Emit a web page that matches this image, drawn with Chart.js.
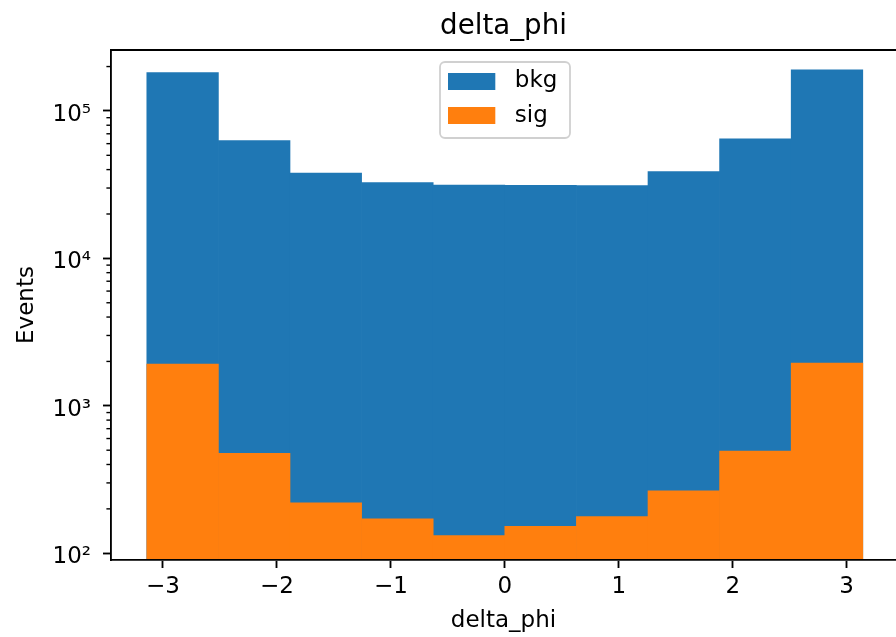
<!DOCTYPE html>
<html><head><meta charset="utf-8">
<script src="https://cdn.jsdelivr.net/npm/chart.js@4/dist/chart.umd.min.js"></script>
<style>html,body{margin:0;padding:0;background:#fff;overflow:hidden}canvas{display:block}</style>
</head><body>
<canvas id="c" width="896" height="637"></canvas>
<script>
// ---- data ----
const binCenters = [-2.8274, -2.1991, -1.5708, -0.9425, -0.3142, 0.3142, 0.9425, 1.5708, 2.1991, 2.8274];
const bkgCounts  = [182000, 62900, 37900, 32700, 31400, 31300, 31200, 38800, 64600, 190000];
const sigCounts  = [1920, 476, 220, 171, 132, 152, 177, 265, 494, 1950];
const seriesNames = ['bkg', 'sig'];
const xTickValues = [-3, -2, -1, 0, 1, 2, 3];
const xTickLabels = ['−3', '−2', '−1', '0', '1', '2', '3'];
const yTickValues = [100, 1000, 10000, 100000];
const yTickLabels = ['10²', '10³', '10⁴', '10⁵'];
const chartTitle = 'delta_phi';
const xTitle = 'delta_phi';
const yTitle = 'Events';

// ---- styling ----
const FONT = 'DejaVu Sans';
const colors = ['#1f77b4', '#ff7f0e'];
const X_MIN = -3.4558, X_MAX = 3.433;
const Y_MIN = 90, Y_MAX = 259000;
const AX = '#000';

function swatch(color) {
  const c = document.createElement('canvas');
  c.width = 55; c.height = 17;
  const g = c.getContext('2d');
  g.fillStyle = color;
  g.fillRect(0, 0, 47, 17);
  return c;
}
const swatches = colors.map(swatch);

const minorTicks = [];
yTickValues.concat([1000000]).forEach(d => {
  for (let m = 2; m <= 9; m++) {
    const v = m * d;
    if (v > Y_MIN && v < Y_MAX) minorTicks.push(v);
  }
});

const decor = {
  id: 'decor',
  afterLayout(chart) {
    const ca = chart.chartArea, lg = chart.legend;
    lg.left = ca.left + 325.7;
    lg.top = ca.top + 8.1;
  },
  beforeDraw(chart) {
    const ctx = chart.ctx, ca = chart.chartArea;
    const x = ca.left + 329, y = ca.top + 12, w = 130, h = 76, r = 5;
    ctx.save();
    ctx.beginPath();
    ctx.roundRect(x, y, w, h, r);
    ctx.fillStyle = 'rgba(255,255,255,0.8)';
    ctx.fill();
    ctx.lineWidth = 1.8;
    ctx.strokeStyle = '#d0d0d0';
    ctx.stroke();
    ctx.restore();
  },
  afterDraw(chart) {
    const ctx = chart.ctx, ca = chart.chartArea, ys = chart.scales.y;
    ctx.save();
    ctx.strokeStyle = AX;
    ctx.lineWidth = 1.85;
    ctx.beginPath();
    ctx.moveTo(ca.left - 0.9, ca.top);
    ctx.lineTo(ca.right, ca.top);
    ctx.stroke();
    ctx.lineWidth = 1.4;
    ys.ticks.forEach(t => {
      if (t.major) return;
      const py = ys.getPixelForValue(t.value);
      ctx.beginPath();
      ctx.moveTo(ca.left - 4.6, py);
      ctx.lineTo(ca.left, py);
      ctx.stroke();
    });
    ctx.restore();
  }
};

const mk = (vals) => binCenters.map((c, i) => ({ x: c, y: vals[i] }));

new Chart(document.getElementById('c'), {
  type: 'bar',
  data: {
    datasets: [
      { label: seriesNames[0], data: mk(bkgCounts), backgroundColor: colors[0], order: 1 },
      { label: seriesNames[1], data: mk(sigCounts), backgroundColor: colors[1], order: 0 }
    ]
  },
  options: {
    responsive: false,
    animation: false,
    devicePixelRatio: 1,
    layout: { padding: 0 },
    datasets: { bar: { grouped: false, barPercentage: 1, categoryPercentage: 1, borderWidth: 0 } },
    plugins: {
      tooltip: { enabled: false },
      title: {
        display: true, text: chartTitle, fullSize: false, color: '#000',
        font: { family: FONT, size: 27.7, weight: 'normal' },
        padding: { top: 10, bottom: 6.76 }
      },
      legend: {
        position: 'chartArea', align: 'start',
        labels: {
          usePointStyle: true, pointStyleWidth: 55, boxHeight: 17, padding: 11.6,
          color: '#000', font: { family: FONT, size: 23 },
          generateLabels: (chart) => Chart.defaults.plugins.legend.labels.generateLabels(chart)
            .map(l => Object.assign({}, l, { pointStyle: swatches[l.datasetIndex] })),
          sort: (a, b) => a.datasetIndex - b.datasetIndex
        }
      }
    },
    scales: {
      x: {
        type: 'linear', min: X_MIN, max: X_MAX, offset: false,
        afterBuildTicks: (s) => { s.ticks = xTickValues.map(v => ({ value: v })); },
        afterFit: (s) => { s.height = 77; },
        ticks: {
          autoSkip: false, maxRotation: 0, padding: 5, color: '#000',
          font: { family: FONT, size: 23 },
          callback: (v) => { const i = xTickValues.indexOf(v); return i >= 0 ? xTickLabels[i] : ''; }
        },
        grid: { display: true, offset: false, drawOnChartArea: false, drawTicks: true, tickLength: 8, tickWidth: 1.85, tickColor: AX, z: 1 },
        border: { display: true, color: AX, width: 1.85, z: 1 },
        title: { display: true, text: xTitle, color: '#000', font: { family: FONT, size: 23 }, padding: { top: 0, bottom: 2 } }
      },
      y: {
        type: 'logarithmic', min: Y_MIN, max: Y_MAX,
        afterBuildTicks: (s) => {
          const t = yTickValues.map(v => ({ value: v, major: true }))
            .concat(minorTicks.map(v => ({ value: v, major: false })));
          t.sort((a, b) => a.value - b.value);
          s.ticks = t;
        },
        afterFit: (s) => { s.width = 111; },
        ticks: {
          autoSkip: false, padding: 12, labelOffset: 4, color: '#000',
          font: { family: FONT, size: 23 },
          callback: (v) => { const i = yTickValues.indexOf(v); return i >= 0 ? yTickLabels[i] : ''; }
        },
        grid: {
          display: true, drawOnChartArea: false, drawTicks: true, tickLength: 8, tickWidth: 1.85, z: 1,
          tickColor: (c) => (c.tick && c.tick.major) ? AX : 'rgba(0,0,0,0)'
        },
        border: { display: true, color: AX, width: 1.85, z: 1 },
        title: { display: true, text: yTitle, color: '#000', font: { family: FONT, size: 23 }, padding: { top: 13, bottom: 0 } }
      }
    }
  },
  plugins: [decor]
});
</script>
</body></html>
